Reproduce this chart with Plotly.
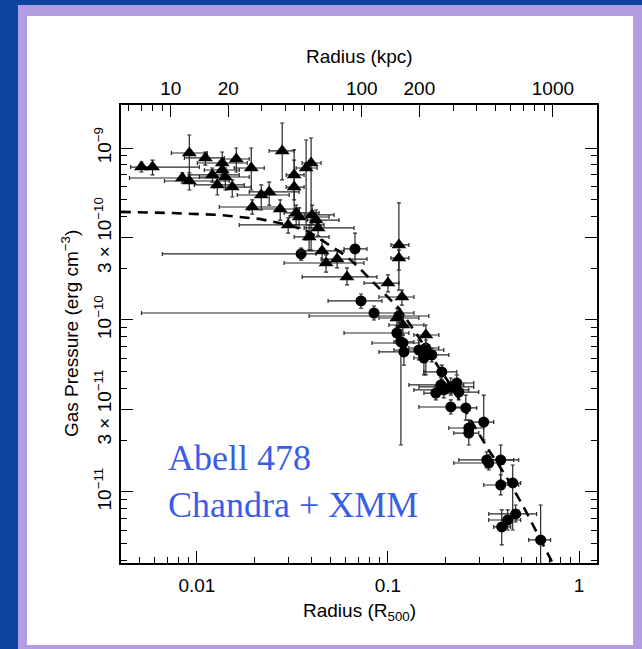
import plotly.graph_objects as go

R500_KPC = 1370.0

# Chandra (triangles)
ch_r = [0.00513, 0.00586, 0.00913, 0.01108, 0.01358, 0.01608, 0.01926, 0.0084, 0.00913, 0.01205,
        0.01358, 0.01409, 0.01279, 0.01532, 0.02172, 0.02391, 0.01949, 0.02796, 0.02729, 0.03005,
        0.03229, 0.03229, 0.0373, 0.03961, 0.03307, 0.03429, 0.04009, 0.04207, 0.0431, 0.03867,
        0.04522, 0.04745, 0.05418, 0.06107, 0.1, 0.1141, 0.1141, 0.1183, 0.1579, 0.1114, 0.1198]
ch_p = [7.75e-10, 7.75e-10, 9.35e-10, 8.75e-10, 8.18e-10, 8.63e-10, 7.65e-10, 6.69e-10, 6.43e-10, 6.97e-10,
        7.45e-10, 6.78e-10, 6.10e-10, 5.93e-10, 5.33e-10, 5.55e-10, 4.54e-10, 9.61e-10, 4.42e-10, 3.57e-10,
        6.97e-10, 5.93e-10, 7.65e-10, 8.18e-10, 4.19e-10, 3.97e-10, 4.08e-10, 3.81e-10, 3.43e-10, 3.04e-10,
        2.52e-10, 2.145e-10, 2.26e-10, 1.78e-10, 1.64e-10, 2.73e-10, 2.29e-10, 1.36e-10, 8.18e-11, 1.027e-10, 9.35e-11]
ch_r_lo = [0.0045, 0.00501, 0.00736, 0.0086, 0.01006, 0.01392, 0.01569, 0.00444, 0.00677, 0.00913,
           0.01094, 0.0103, 0.0097, 0.01234, 0.01627, 0.0188, 0.01311, 0.02391, 0.0188, 0.01667,
           0.02934, 0.02934, 0.03307, 0.03556, 0.02863, 0.03041, 0.03641, 0.03776, 0.03641, 0.03229,
           0.03429, 0.02863, 0.04468, 0.03556, 0.07493, 0.1037, 0.1037, 0.08974, 0.1367, 0.08974, 0.1012]
ch_r_hi = [0.00579, 0.0103, 0.01134, 0.01392, 0.01835, 0.0188, 0.02252, 0.01279, 0.01478, 0.01667,
           0.01667, 0.0188, 0.0177, 0.01926, 0.03041, 0.03429, 0.02697, 0.03229, 0.03429, 0.04632,
           0.03641, 0.03641, 0.04258, 0.04468, 0.04362, 0.04918, 0.05224, 0.05548, 0.06644, 0.04918,
           0.05891, 0.07493, 0.0777, 0.08762, 0.1141, 0.1287, 0.1287, 0.1367, 0.1846, 0.1452, 0.1542]
ch_p_lo = [7.25e-10, 6.97e-10, 7.16e-10, 7.96e-10, 6.97e-10, 7.25e-10, 5.70e-10, 6.26e-10, 5.70e-10, 6.34e-10,
           6.69e-10, 5.70e-10, 5.33e-10, 5.19e-10, 4.36e-10, 4.66e-10, 4.13e-10, 6.52e-10, 3.81e-10, 3.20e-10,
           4.99e-10, 4.08e-10, 2.92e-10, 2.55e-10, 3.57e-10, 3.43e-10, 3.57e-10, 3.34e-10, 3.08e-10, 2.55e-10,
           2.09e-10, 1.90e-10, 2.01e-10, 1.60e-10, 1.455e-10, 1.49e-10, 1.95e-10, 1.22e-10, 7.16e-11, 8.98e-11, 8.18e-11]
ch_p_hi = [8.29e-10, 8.51e-10, 1.19e-9, 9.48e-10, 9.48e-10, 1.0e-9, 1.0e-9, 7.16e-10, 6.97e-10, 7.65e-10,
           8.29e-10, 7.65e-10, 6.69e-10, 6.52e-10, 6.10e-10, 6.34e-10, 4.99e-10, 1.397e-9, 4.99e-10, 3.92e-10,
           9.74e-10, 8.51e-10, 1.113e-9, 1.143e-9, 4.66e-10, 4.48e-10, 4.66e-10, 4.36e-10, 3.81e-10, 3.57e-10,
           2.92e-10, 2.39e-10, 2.55e-10, 2.01e-10, 1.83e-10, 4.79e-10, 2.55e-10, 1.49e-10, 9.35e-11, 1.17e-10, 1.07e-10]

# XMM (circles)
xm_r = [0.03512, 0.06725, 0.07228, 0.08452, 0.1141, 0.1114, 0.1198, 0.1169, 0.1212, 0.1452,
        0.1579, 0.1542, 0.1697, 0.1914, 0.1891, 0.1961, 0.1781, 0.2133, 0.2293, 0.2349,
        0.2133, 0.2555, 0.3172, 0.2649, 0.2649, 0.3289, 0.3369, 0.3892, 0.3892, 0.4496,
        0.466, 0.4233, 0.3939, 0.6295]
xm_p = [2.42e-10, 2.59e-10, 1.29e-10, 1.098e-10, 1.055e-10, 8.40e-11, 7.35e-11, 7.45e-11, 6.52e-11, 6.69e-11,
        6.87e-11, 6.01e-11, 6.26e-11, 4.99e-11, 4.19e-11, 3.92e-11, 3.76e-11, 4.08e-11, 4.30e-11, 3.81e-11,
        3.12e-11, 3.08e-11, 2.55e-11, 2.355e-11, 2.20e-11, 1.535e-11, 1.474e-11, 1.535e-11, 1.098e-11, 1.128e-11,
        7.45e-12, 6.87e-12, 6.26e-12, 5.26e-12]
xm_r_lo = [0.0066, 0.05891, 0.0486, 0.00513, 0.03867, 0.05891, 0.08249, 0.1075, 0.08974, 0.1075,
           0.1287, 0.1367, 0.1452, 0.1542, 0.1287, 0.1367, 0.1542, 0.1452, 0.1846, 0.1961,
           0.1452, 0.2211, 0.2649, 0.2082, 0.2211, 0.2349, 0.2211, 0.3172, 0.3172, 0.4035,
           0.3369, 0.3369, 0.3577, 0.5449]
xm_r_hi = [0.04207, 0.0777, 0.09305, 0.1367, 0.1637, 0.1287, 0.1452, 0.1367, 0.1542, 0.1961,
           0.1846, 0.1739, 0.2082, 0.2293, 0.2494, 0.2649, 0.2349, 0.2813, 0.2813, 0.2987,
           0.2649, 0.2915, 0.3577, 0.3172, 0.2987, 0.455, 0.4035, 0.4832, 0.4832, 0.4949,
           0.5999, 0.4949, 0.4389, 0.7098]
xm_p_lo = [2.23e-10, 2.145e-10, 1.17e-10, 1.0e-10, 9.61e-11, 7.65e-11, 6.69e-11, 1.876e-11, 5.47e-11, 5.86e-11,
           4.79e-11, 4.79e-11, 5.70e-11, 4.48e-11, 3.81e-11, 3.52e-11, 3.43e-11, 3.66e-11, 3.81e-11, 3.43e-11,
           2.84e-11, 2.62e-11, 2.005e-11, 2.145e-11, 1.876e-11, 1.379e-11, 1.342e-11, 1.174e-11, 9.61e-12, 6.01e-12,
           6.69e-12, 6.01e-12, 4.92e-12, 3.76e-12]
xm_p_hi = [2.62e-10, 3.20e-10, 1.416e-10, 1.206e-10, 1.159e-10, 9.23e-11, 8.18e-11, 8.75e-11, 7.65e-11, 7.65e-11,
           7.65e-11, 6.69e-11, 6.87e-11, 5.47e-11, 4.60e-11, 4.30e-11, 4.13e-11, 4.60e-11, 4.79e-11, 4.30e-11,
           3.43e-11, 3.66e-11, 3.66e-11, 2.62e-11, 2.62e-11, 1.709e-11, 1.641e-11, 1.876e-11, 1.256e-11, 1.435e-11,
           8.40e-12, 7.86e-12, 7.86e-12, 8.40e-12]

# Model (dashed)
model_r = [0.004, 0.00718, 0.0131, 0.0212, 0.0304, 0.0387, 0.0510, 0.0603, 0.0706, 0.0815, 0.0953,
           0.1141, 0.140, 0.174, 0.221, 0.271, 0.337, 0.418, 0.513, 0.630, 0.736]
model_p = [4.25e-10, 4.19e-10, 4.08e-10, 3.87e-10, 3.57e-10, 3.25e-10, 2.66e-10, 2.36e-10, 2.01e-10, 1.71e-10,
           1.44e-10, 1.17e-10, 8.40e-11, 5.86e-11, 3.92e-11, 2.62e-11, 1.75e-11, 1.22e-11, 8.18e-12, 5.26e-12, 3.76e-12]

x_tickvals = [0.01, 0.1, 1]
x_ticktext = ["0.01", "0.1", "1"]
x_minor = [0.005, 0.006, 0.007, 0.008, 0.009, 0.02, 0.03, 0.04, 0.05, 0.06, 0.07, 0.08, 0.09,
           0.2, 0.3, 0.4, 0.5, 0.6, 0.7, 0.8, 0.9]
kpc_tickvals = [10, 20, 100, 200, 1000]
kpc_ticktext = ["10", "20", "100", "200", "1000"]
kpc_minor = [6, 7, 8, 9, 30, 40, 50, 60, 70, 80, 90, 300, 400, 500, 600, 700, 800, 900]
y_tickvals = [1e-11, 3e-11, 1e-10, 3e-10, 1e-9]
y_ticktext = ["10<sup>−11</sup>", "3 × 10<sup>−11</sup>", "10<sup>−10</sup>", "3 × 10<sup>−10</sup>", "10<sup>−9</sup>"]
y_minor = [m * 10.0 ** e for e in (-12, -11, -10, -9) for m in (2, 4, 5, 6, 7, 8, 9)]


def err(v, lo, hi):
    return [h - a for a, h in zip(v, hi)], [a - l for a, l in zip(v, lo)]


ch_ex, ch_exm = err(ch_r, ch_r_lo, ch_r_hi)
ch_ey, ch_eym = err(ch_p, ch_p_lo, ch_p_hi)
xm_ex, xm_exm = err(xm_r, xm_r_lo, xm_r_hi)
xm_ey, xm_eym = err(xm_p, xm_p_lo, xm_p_hi)

fig = go.Figure()
ebar = dict(color="#282828", thickness=1.2, width=2)
fig.add_trace(go.Scatter(
    x=xm_r, y=xm_p, mode="markers",
    marker=dict(symbol="circle", size=11, color="black"),
    error_x=dict(type="data", symmetric=False, array=xm_ex, arrayminus=xm_exm, **ebar),
    error_y=dict(type="data", symmetric=False, array=xm_ey, arrayminus=xm_eym, **ebar),
    showlegend=False))
fig.add_trace(go.Scatter(
    x=ch_r, y=ch_p, mode="markers",
    marker=dict(symbol="triangle-up", size=13, color="black"),
    error_x=dict(type="data", symmetric=False, array=ch_ex, arrayminus=ch_exm, **ebar),
    error_y=dict(type="data", symmetric=False, array=ch_ey, arrayminus=ch_eym, **ebar),
    showlegend=False))
fig.add_trace(go.Scatter(
    x=model_r, y=model_p, mode="lines",
    line=dict(color="black", width=2.6, dash="10px,7px"),
    showlegend=False))
# invisible trace to activate the kpc axis
fig.add_trace(go.Scatter(
    x=[r * R500_KPC for r in model_r], y=model_p, xaxis="x2", mode="lines",
    line=dict(width=0), opacity=0, hoverinfo="skip", showlegend=False))

font_ax = dict(family="Liberation Sans, Arial, sans-serif", size=19, color="black")
axis_common = dict(showline=True, linecolor="black", linewidth=2, ticks="inside", ticklen=12,
                   tickwidth=1.4, tickcolor="black", showgrid=False, zeroline=False, tickfont=font_ax,
                   automargin=False)

L, R, T, B = 121, 45, 105, 86
W, H = 642, 649
pw, ph = W - L - R, H - T - B


def px(x):
    return (x - L) / pw


def py(y):
    return 1 - (y - T) / ph


fig.update_layout(
    width=W, height=H,
    margin=dict(l=L, r=R, t=T, b=B, pad=0),
    paper_bgcolor="#0B439E",
    plot_bgcolor="white",
    xaxis=dict(type="log", range=[-2.397, 0.094], tickvals=x_tickvals, ticktext=x_ticktext,
               ticklabelstandoff=4,
               minor=dict(ticks="inside", ticklen=6, tickwidth=1.2, tickcolor="black", tickvals=x_minor),
               **axis_common),
    xaxis2=dict(type="log", overlaying="x", side="top", anchor="y",
                range=[-2.397 + 3.1367, 0.094 + 3.1367], tickvals=kpc_tickvals, ticktext=kpc_ticktext,
                minor=dict(ticks="inside", ticklen=6, tickwidth=1.2, tickcolor="black", tickvals=kpc_minor),
                **axis_common),
    yaxis=dict(type="log", range=[-11.413, -8.75], tickvals=y_tickvals, ticktext=y_ticktext,
               tickangle=-90, mirror="ticks",
               minor=dict(ticks="inside", ticklen=6, tickwidth=1.2, tickcolor="black", tickvals=y_minor),
               **axis_common),
    shapes=[
        dict(type="rect", xref="paper", yref="paper", layer="below",
             x0=px(18), x1=px(650), y0=py(655), y1=py(5),
             fillcolor="#B39DE2", line=dict(width=0)),
        dict(type="rect", xref="paper", yref="paper", layer="below",
             x0=px(27), x1=px(633), y0=py(645), y1=py(16),
             fillcolor="white", line=dict(width=0)),
    ],
    annotations=[
        dict(text="Radius (kpc)", xref="paper", yref="paper", x=0.5, y=py(57),
             showarrow=False, font=font_ax, xanchor="center", yanchor="middle"),
        dict(text="Radius (R<sub>500</sub>)", xref="paper", yref="paper", x=0.5, y=py(612),
             showarrow=False, font=font_ax, xanchor="center", yanchor="middle"),
        dict(text="Gas Pressure (erg cm<sup>−3</sup>)", xref="paper", yref="paper", x=px(70), y=0.5,
             showarrow=False, font=font_ax, textangle=-90, xanchor="center", yanchor="middle"),
        dict(text="Abell 478<br>Chandra + XMM", xref="paper", yref="paper", x=px(166), y=py(436),
             showarrow=False, align="left", xanchor="left", yanchor="top",
             font=dict(family="Liberation Serif, Times New Roman, serif", size=36, color="#3A5CE6")),
    ],
)

fig.write_html(
    "out.html",
    config={"displayModeBar": False},
    post_script="document.body.style.margin='0px';document.body.style.padding='0px';"
                "document.body.style.overflow='hidden';",
)
